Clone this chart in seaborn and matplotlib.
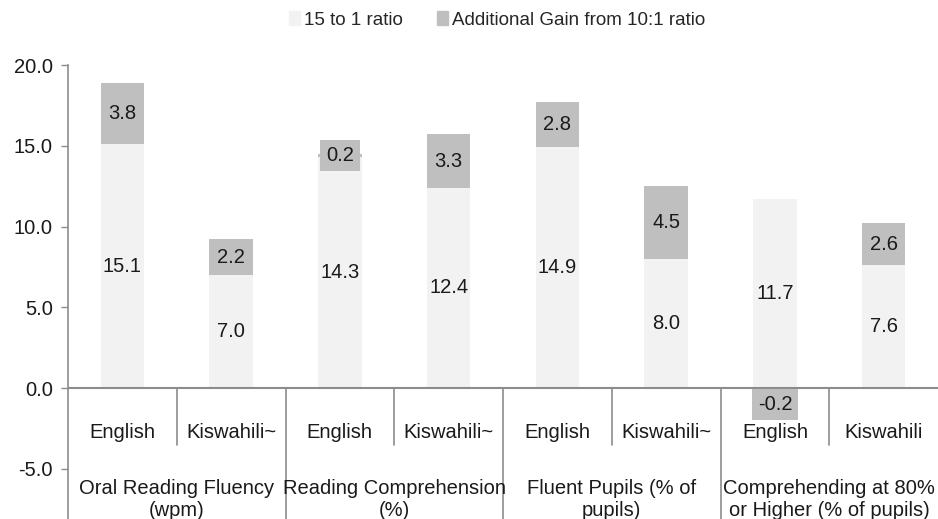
import seaborn as sns
import pandas as pd
import numpy as np
import matplotlib.pyplot as plt
from matplotlib.patches import Patch
from matplotlib.ticker import FormatStrFormatter

groups = ["Oral Reading Fluency\n(wpm)", "Reading Comprehension\n(%)",
          "Fluent Pupils (% of\npupils)", "Comprehending at 80%\nor Higher (% of pupils)"]
languages = ["English", "Kiswahili~", "English", "Kiswahili~",
             "English", "Kiswahili~", "English", "Kiswahili"]
base = [15.1, 7.0, 14.3, 12.4, 14.9, 8.0, 11.7, 7.6]
gain = [3.8, 2.2, 0.2, 3.3, 2.8, 4.5, -0.2, 2.6]

base_col = "#f2f2f2"
gain_col = "#bfbfbf"
line_col = "#8c8c8c"

sns.set_theme(style="white")
plt.rcParams["font.family"] = ["Liberation Sans", "DejaVu Sans"]

df = pd.DataFrame({"pos": range(len(base)), "base": base, "gain": gain})
gain_bottom = np.where(df["gain"] >= 0, df["base"], 0)

fig = plt.figure(figsize=(9.38, 5.19), dpi=100)
ax = fig.add_axes([68 / 938, 0, 870 / 938, 1 - 65 / 519])

sns.barplot(data=df, x="pos", y="base", color=base_col, width=0.4,
            saturation=1, linewidth=0, ax=ax)
sns.barplot(data=df, x="pos", y="gain", color=gain_col, width=0.4,
            saturation=1, linewidth=0, bottom=gain_bottom, ax=ax)

ax.set_xlim(-0.5, 7.5)
ax.set_ylim(-8.1, 20)
ax.set_yticks(np.arange(-5, 20.1, 5))
ax.yaxis.set_major_formatter(FormatStrFormatter("%.1f"))
ax.tick_params(axis="y", left=True, length=5, width=1, color=line_col,
               labelsize=14.5, labelcolor="#1a1a1a", pad=6)
ax.set_xticks([])
ax.set_xlabel("")
ax.set_ylabel("")
for s in ["top", "right", "bottom"]:
    ax.spines[s].set_visible(False)
ax.spines["left"].set_color(line_col)
ax.spines["left"].set_linewidth(1.2)
ax.axhline(0, color=line_col, lw=1.5, zorder=3)

# value labels
box = dict(boxstyle="square,pad=0.3", fc=gain_col, ec="none")
for i in range(len(base)):
    ax.text(i, base[i] / 2, f"{base[i]:.1f}", ha="center", va="center",
            fontsize=14.5, color="#1a1a1a")
    g = gain[i]
    if g >= 0:
        ax.text(i, base[i] + g / 2, f"{g:.1f}", ha="center", va="center",
                fontsize=14.5, color="#1a1a1a", bbox=box)
    else:
        ax.text(i, g - 0.2, f"{g:.1f}", ha="center", va="top",
                fontsize=14.5, color="#1a1a1a", zorder=4, bbox=box)

# category axis: languages and groups
for i, lab in enumerate(languages):
    ax.text(i, -2.72, lab, ha="center", va="center", fontsize=14.5, color="#1a1a1a")
for k, g in enumerate(groups):
    ax.text(2 * k + 0.5, -5.65, g, ha="center", va="top", fontsize=14.5,
            color="#1a1a1a", linespacing=1.2)
for x in [0.5, 2.5, 4.5, 6.5]:
    ax.plot([x, x], [0, -3.55], color=line_col, lw=1.2, clip_on=False)
for x in [1.5, 3.5, 5.5]:
    ax.plot([x, x], [0, -8.1], color=line_col, lw=1.2, clip_on=False)

handles = [Patch(color=base_col, label="15 to 1 ratio"),
           Patch(color=gain_col, label="Additional Gain from 10:1 ratio")]
fig.legend(handles=handles, loc="center", bbox_to_anchor=(0.53, 1 - 20 / 519),
           ncol=2, frameon=False, fontsize=13.5, handlelength=0.6,
           handleheight=0.7, handletextpad=0.2, columnspacing=1.8)

fig.savefig("out.png", dpi=100)
